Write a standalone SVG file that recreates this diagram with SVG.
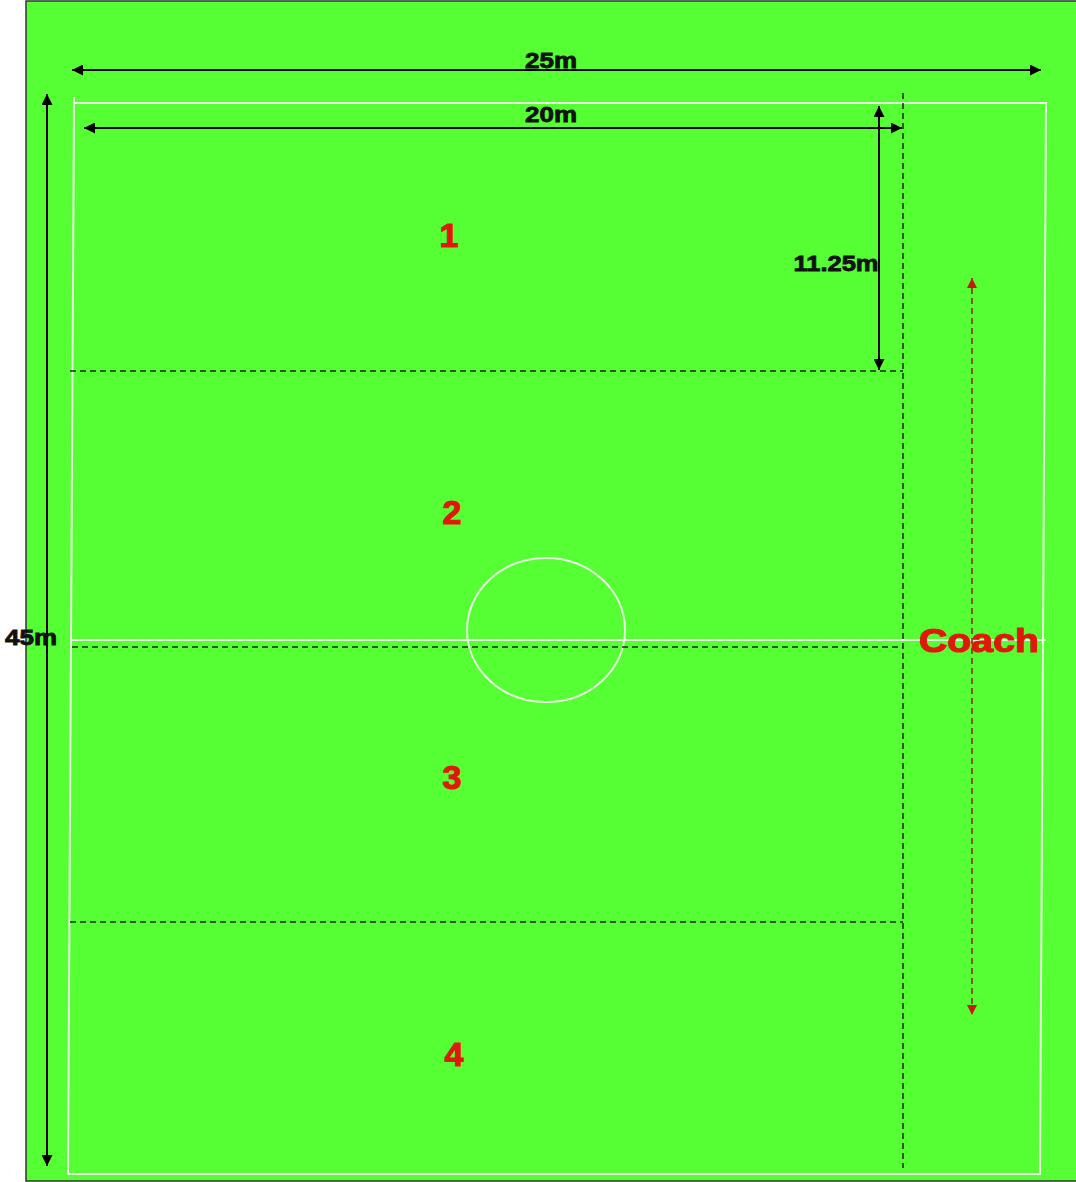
<svg xmlns="http://www.w3.org/2000/svg" width="1076" height="1182" viewBox="0 0 1076 1182">
<style>
.dim{font-family:"Liberation Sans",Arial,sans-serif;font-weight:bold;font-size:22px;fill:#111;stroke:#111;stroke-width:0.8;text-anchor:middle}
.num{font-family:"Liberation Sans",Arial,sans-serif;font-weight:bold;font-size:34px;fill:#E0180A;stroke:#E0180A;stroke-width:1.2;text-anchor:middle}
.white{fill:none;stroke:#E8F8E0;stroke-width:2}
.dash{fill:none;stroke:#1a2a10;stroke-width:1.5;stroke-dasharray:6,4}
.arrow{fill:none;stroke:#000;stroke-width:2}
</style>
<defs>
<marker id="ah" viewBox="0 0 10 10" refX="10" refY="5" markerWidth="12" markerHeight="11" markerUnits="userSpaceOnUse" orient="auto-start-reverse">
<path d="M0,0 L10,5 L0,10 z" fill="#000"/>
</marker>
<marker id="ahr" viewBox="0 0 10 10" refX="10" refY="5" markerWidth="10" markerHeight="10" markerUnits="userSpaceOnUse" orient="auto-start-reverse">
<path d="M0,0 L10,5 L0,10 z" fill="#C81A0A"/>
</marker>
</defs>
<rect x="0" y="0" width="1076" height="1182" fill="#fff"/>
<g id="field">
<rect x="26" y="1" width="1052" height="1180" fill="#55FF33" stroke="#333" stroke-width="1.5"/>
<polygon class="white" points="74,103 1046,103 1040,1174 68,1174"/>
<line class="white" x1="74" y1="97" x2="74" y2="103"/>
<line class="white" x1="72" y1="640" x2="1046" y2="640"/>
<ellipse class="white" cx="546" cy="630" rx="79" ry="72"/>
</g>
<g id="zones">
<line class="dash" x1="70" y1="371" x2="903" y2="371"/>
<line class="dash" x1="72" y1="647" x2="903" y2="647"/>
<line class="dash" x1="70" y1="922" x2="903" y2="922"/>
<line class="dash" x1="903" y1="93" x2="903" y2="1168"/>
</g>
<g id="connectors">
<line class="arrow" x1="72" y1="70" x2="1041" y2="70" marker-start="url(#ah)" marker-end="url(#ah)"/>
<line class="arrow" x1="84" y1="128" x2="902" y2="128" marker-start="url(#ah)" marker-end="url(#ah)"/>
<line class="arrow" x1="879" y1="106" x2="879" y2="370" marker-start="url(#ah)" marker-end="url(#ah)"/>
<line class="arrow" x1="47" y1="94" x2="47" y2="1166" marker-start="url(#ah)" marker-end="url(#ah)"/>
<line x1="972" y1="278" x2="972" y2="1015" stroke="#8a2a10" stroke-width="1.5" stroke-dasharray="6,4" marker-start="url(#ahr)" marker-end="url(#ahr)"/>
</g>
<g id="labels">
<text class="dim" x="551" y="68" textLength="52" lengthAdjust="spacingAndGlyphs">25m</text>
<text class="dim" x="551" y="122" textLength="52" lengthAdjust="spacingAndGlyphs">20m</text>
<text class="dim" x="836" y="271" textLength="85" lengthAdjust="spacingAndGlyphs">11.25m</text>
<text class="dim" x="31" y="645" textLength="52" lengthAdjust="spacingAndGlyphs">45m</text>
</g>
<g id="zone1"><text class="num" x="449" y="247">1</text></g>
<g id="zone2"><text class="num" x="452" y="524">2</text></g>
<g id="zone3"><text class="num" x="452" y="789">3</text></g>
<g id="zone4"><text class="num" x="454" y="1066">4</text></g>
<g id="coach"><text class="num" x="979" y="652" font-size="38" textLength="120" lengthAdjust="spacingAndGlyphs">Coach</text></g>
</svg>
